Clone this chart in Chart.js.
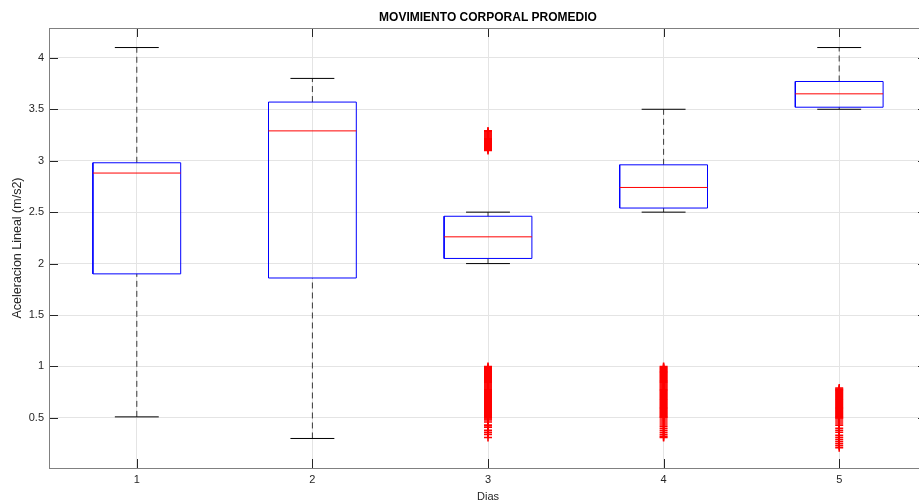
<!DOCTYPE html>
<html>
<head>
<meta charset="utf-8">
<style>
  html, body { margin: 0; padding: 0; background: #ffffff; overflow: hidden; }
  #wrap { width: 940px; height: 502px; }
</style>
<script src="https://cdn.jsdelivr.net/npm/chart.js@4.4.1/dist/chart.umd.min.js"></script>
</head>
<body>
<div id="wrap"><canvas id="grafico" width="940" height="502"></canvas></div>
<script>
// Días de registro y resumen de cada caja (m/s2)
const dias       = [1, 2, 3, 4, 5];
const bigoteInf  = [0.51, 0.30, 2.00, 2.50, 3.50];
const cuartil1   = [1.90, 1.86, 2.05, 2.54, 3.52];
const mediana    = [2.88, 3.29, 2.26, 2.74, 3.65];
const cuartil3   = [2.98, 3.57, 2.46, 2.96, 3.77];
const bigoteSup  = [4.10, 3.80, 2.50, 3.50, 4.10];

// Valores atípicos por día
const atipicosDia1 = [];
const atipicosDia2 = [];
const atipicosDia3 = [
  3.29, 3.28, 3.27, 3.26, 3.25, 3.24, 3.23, 3.22, 3.21, 3.20, 3.19, 3.18, 3.17, 3.16, 3.15,
  3.14, 3.13, 3.12, 3.11, 3.10,
  1.00, 0.99, 0.98, 0.97, 0.96, 0.95, 0.94, 0.93, 0.92, 0.91, 0.90, 0.89, 0.88, 0.87, 0.86,
  0.85, 0.84, 0.83, 0.82, 0.81, 0.80, 0.79, 0.78, 0.77, 0.76, 0.75, 0.74, 0.73, 0.72, 0.71,
  0.70, 0.69, 0.68, 0.67, 0.66, 0.65, 0.64, 0.63, 0.62, 0.61, 0.60, 0.59, 0.58, 0.57, 0.56,
  0.55, 0.54, 0.53, 0.52, 0.51, 0.50, 0.49, 0.48,
  0.46, 0.43, 0.41, 0.38, 0.36, 0.34, 0.31
];
const atipicosDia4 = [
  1.00, 0.99, 0.98, 0.97, 0.96, 0.95, 0.94, 0.93, 0.92, 0.91, 0.90, 0.89, 0.88, 0.87, 0.86,
  0.85, 0.84, 0.83, 0.82, 0.81, 0.80, 0.79, 0.78, 0.77, 0.76, 0.75, 0.74, 0.73, 0.72, 0.71,
  0.70, 0.69, 0.68, 0.67, 0.66, 0.65, 0.64, 0.63, 0.62, 0.61, 0.60, 0.59, 0.58, 0.57, 0.56,
  0.55, 0.54, 0.53, 0.52, 0.51, 0.50,
  0.48, 0.46, 0.44, 0.42, 0.40, 0.38, 0.36, 0.34, 0.32, 0.31
];
const atipicosDia5 = [
  0.79, 0.78, 0.77, 0.76, 0.75, 0.74, 0.73, 0.72, 0.71, 0.70, 0.69, 0.68, 0.67, 0.66, 0.65,
  0.64, 0.63, 0.62, 0.61, 0.60, 0.59, 0.58, 0.57, 0.56, 0.55, 0.54, 0.53, 0.52, 0.51, 0.50,
  0.49, 0.47,
  0.45, 0.43, 0.40, 0.38, 0.36, 0.33, 0.31, 0.29, 0.27, 0.25, 0.23, 0.21
];
const atipicos = [atipicosDia1, atipicosDia2, atipicosDia3, atipicosDia4, atipicosDia5];

// Marcas de los ejes
const yTicks      = [0.5, 1, 1.5, 2, 2.5, 3, 3.5, 4];
const yTickLabels = ['0.5', '1', '1.5', '2', '2.5', '3', '3.5', '4'];
const xTickLabels = ['1', '2', '3', '4', '5'];
const yMin = 0.013, yMax = 4.29;
const xMin = 0.5, xMax = 5.5;

const FONT = "'Liberation Sans', Arial, Helvetica, sans-serif";
const AZUL = '#0000ff', ROJO = '#ff0000', NEGRO = '#000000';
const mediaCaja = 0.25, mediaTope = 0.125;

function linea(puntos, color, extra) {
  return Object.assign({
    type: 'scatter', data: puntos, showLine: true, borderColor: color,
    borderWidth: 1, pointRadius: 0, pointHoverRadius: 0, fill: false, tension: 0
  }, extra || {});
}

const datasets = [];
dias.forEach((d, i) => {
  // bigotes discontinuos
  datasets.push(linea([{x: d, y: cuartil3[i]}, {x: d, y: bigoteSup[i]}], '#3a3a3a', {borderDash: [6, 4], order: 5}));
  datasets.push(linea([{x: d, y: bigoteInf[i]}, {x: d, y: cuartil1[i]}], '#3a3a3a', {borderDash: [6, 4], order: 5}));
  // topes de los bigotes
  datasets.push(linea([{x: d - mediaTope, y: bigoteSup[i]}, {x: d + mediaTope, y: bigoteSup[i]}], NEGRO, {order: 4}));
  datasets.push(linea([{x: d - mediaTope, y: bigoteInf[i]}, {x: d + mediaTope, y: bigoteInf[i]}], NEGRO, {order: 4}));
  // caja
  datasets.push(linea([
    {x: d - mediaCaja, y: cuartil1[i]}, {x: d + mediaCaja, y: cuartil1[i]},
    {x: d + mediaCaja, y: cuartil3[i]}, {x: d - mediaCaja, y: cuartil3[i]},
    {x: d - mediaCaja, y: cuartil1[i]}
  ], AZUL, {order: 3}));
  // mediana
  datasets.push(linea([{x: d - mediaCaja, y: mediana[i]}, {x: d + mediaCaja, y: mediana[i]}], ROJO, {order: 2}));
  // atípicos
  if (atipicos[i].length) {
    datasets.push({
      type: 'scatter', data: atipicos[i].map(v => ({x: d, y: v})),
      pointStyle: 'cross', radius: 4, pointHoverRadius: 4, borderColor: ROJO,
      backgroundColor: ROJO, borderWidth: 1.6, order: 1
    });
  }
});

// Marco de los ejes y marcas hacia dentro en los cuatro lados
const marco = {
  id: 'marco',
  afterDraw(chart) {
    const {ctx, chartArea: a, scales: {x, y}} = chart;
    const L = 9;
    ctx.save();
    ctx.lineWidth = 1;
    ctx.strokeStyle = '#262626';
    ctx.beginPath();
    x.ticks.forEach(t => {
      const px = Math.round(x.getPixelForValue(t.value)) + 0.5;
      ctx.moveTo(px, a.bottom); ctx.lineTo(px, a.bottom - L);
      ctx.moveTo(px, a.top);    ctx.lineTo(px, a.top + L);
    });
    y.ticks.forEach(t => {
      const py = Math.round(y.getPixelForValue(t.value)) + 0.5;
      ctx.moveTo(a.left, py);  ctx.lineTo(a.left + L, py);
      ctx.moveTo(a.right, py); ctx.lineTo(a.right - L, py);
    });
    ctx.stroke();
    ctx.strokeStyle = '#808080';
    ctx.strokeRect(Math.round(a.left) + 0.5, Math.round(a.top) + 0.5,
                   Math.round(a.right - a.left), Math.round(a.bottom - a.top));
    ctx.restore();
  }
};

new Chart(document.getElementById('grafico'), {
  type: 'scatter',
  data: { datasets },
  plugins: [marco],
  options: {
    responsive: false,
    animation: false,
    devicePixelRatio: 1,
    events: [],
    layout: { padding: { left: 0, right: 13, top: 0, bottom: 0 } },
    plugins: {
      legend: { display: false },
      tooltip: { enabled: false },
      title: {
        display: true,
        text: 'MOVIMIENTO CORPORAL PROMEDIO',
        fullSize: false,
        color: '#000000',
        font: { family: FONT, size: 12, weight: 'bold', lineHeight: 1.2 },
        padding: { top: 10.8, bottom: 2.8 }
      }
    },
    scales: {
      x: {
        type: 'linear', min: xMin, max: xMax,
        afterBuildTicks: s => { s.ticks = dias.map(v => ({ value: v })); },
        afterFit: s => { s.height = 34; },
        ticks: {
          callback: (v, i) => xTickLabels[i],
          color: '#262626', padding: 5, maxRotation: 0,
          font: { family: FONT, size: 11 }
        },
        grid: { color: '#e4e4e4', lineWidth: 1, drawTicks: false },
        border: { display: false },
        title: {
          display: true, text: 'Dias', color: '#262626',
          font: { family: FONT, size: 11, lineHeight: 1.0 },
          padding: { top: 0, bottom: 0 }
        }
      },
      y: {
        type: 'linear', min: yMin, max: yMax,
        afterBuildTicks: s => { s.ticks = yTicks.map(v => ({ value: v })); },
        afterFit: s => { s.width = 49; },
        ticks: {
          callback: (v, i) => yTickLabels[i],
          color: '#262626', padding: 5,
          font: { family: FONT, size: 11 }
        },
        grid: { color: '#e4e4e4', lineWidth: 1, drawTicks: false },
        border: { display: false },
        title: {
          display: true, text: 'Aceleracion Lineal (m/s2)', color: '#262626',
          font: { family: FONT, size: 12.5, lineHeight: 1.2 },
          padding: { top: 10.5, bottom: 0 }
        }
      }
    }
  }
});
</script>
</body>
</html>
